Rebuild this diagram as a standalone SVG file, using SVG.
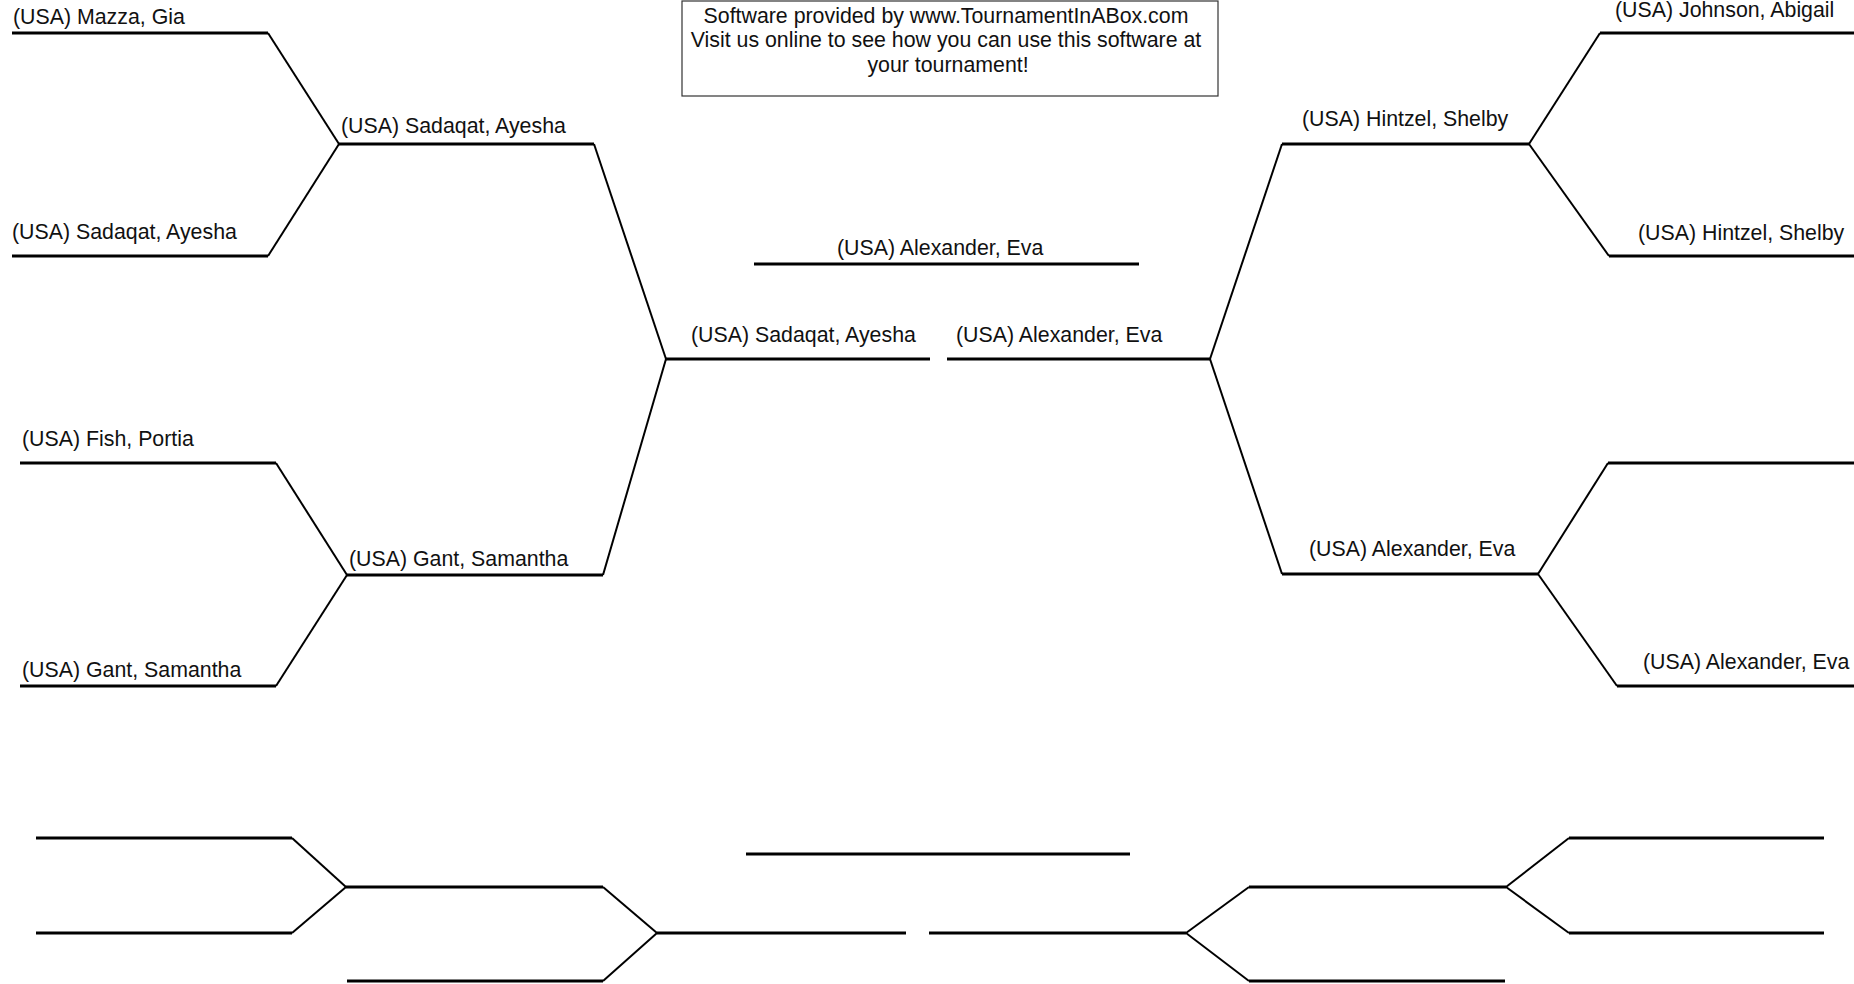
<svg xmlns="http://www.w3.org/2000/svg" width="1854" height="984" viewBox="0 0 1854 984">
<style>
.h{stroke:#000;stroke-width:3;fill:none}
.d{stroke:#000;stroke-width:2;fill:none}
.t{font-family:"Liberation Sans",Arial,sans-serif;font-size:21.33px;fill:#111}
.bx{fill:#fff;stroke:#333;stroke-width:1.2}
</style>
<rect width="1854" height="984" fill="#fff"/>
<g id="info">
<rect class="bx" x="682" y="1" width="536" height="95"/>
<text class="t" x="946" y="23" text-anchor="middle">Software provided by www.TournamentInABox.com</text>
<text class="t" x="946" y="47" text-anchor="middle">Visit us online to see how you can use this software at</text>
<text class="t" x="948" y="72" text-anchor="middle">your tournament!</text>
</g>
<g id="L1"><line class="h" x1="12" y1="33" x2="268" y2="33"/><text class="t" x="13" y="24">(USA) Mazza, Gia</text></g>
<g id="L2"><line class="h" x1="12" y1="256" x2="268" y2="256"/><text class="t" x="12" y="239">(USA) Sadaqat, Ayesha</text></g>
<g id="L3"><line class="h" x1="20" y1="463" x2="276" y2="463"/><text class="t" x="22" y="446">(USA) Fish, Portia</text></g>
<g id="L4"><line class="h" x1="20" y1="686" x2="276" y2="686"/><text class="t" x="22" y="677">(USA) Gant, Samantha</text></g>
<g id="LR2a"><line class="h" x1="339" y1="144" x2="594" y2="144"/><text class="t" x="341" y="133">(USA) Sadaqat, Ayesha</text></g>
<g id="LR2b"><line class="h" x1="347" y1="575" x2="603" y2="575"/><text class="t" x="349" y="566">(USA) Gant, Samantha</text></g>
<g id="SemiL"><line class="h" x1="666" y1="359" x2="930" y2="359"/><text class="t" x="691" y="342">(USA) Sadaqat, Ayesha</text></g>
<g id="SemiR"><line class="h" x1="947" y1="359" x2="1210" y2="359"/><text class="t" x="956" y="342">(USA) Alexander, Eva</text></g>
<g id="Final"><line class="h" x1="754" y1="264" x2="1139" y2="264"/><text class="t" x="837" y="255">(USA) Alexander, Eva</text></g>
<g id="RR2a"><line class="h" x1="1282" y1="144" x2="1529" y2="144"/><text class="t" x="1302" y="126">(USA) Hintzel, Shelby</text></g>
<g id="RR2b"><line class="h" x1="1282" y1="574" x2="1538" y2="574"/><text class="t" x="1309" y="556">(USA) Alexander, Eva</text></g>
<g id="R1"><line class="h" x1="1600" y1="33" x2="1854" y2="33"/><text class="t" x="1615" y="17">(USA) Johnson, Abigail</text></g>
<g id="R2"><line class="h" x1="1609" y1="256" x2="1854" y2="256"/><text class="t" x="1638" y="240">(USA) Hintzel, Shelby</text></g>
<g id="R3"><line class="h" x1="1608" y1="463" x2="1854" y2="463"/></g>
<g id="R4"><line class="h" x1="1617" y1="686" x2="1854" y2="686"/><text class="t" x="1643" y="669">(USA) Alexander, Eva</text></g>
<g id="C1"><line class="h" x1="36" y1="838" x2="292" y2="838"/></g>
<g id="C2"><line class="h" x1="36" y1="933" x2="292" y2="933"/></g>
<g id="C3"><line class="h" x1="346" y1="887" x2="603" y2="887"/></g>
<g id="C4"><line class="h" x1="347" y1="981" x2="603" y2="981"/></g>
<g id="C5"><line class="h" x1="657" y1="933" x2="906" y2="933"/></g>
<g id="C6"><line class="h" x1="746" y1="854" x2="1130" y2="854"/></g>
<g id="C7"><line class="h" x1="929" y1="933" x2="1186" y2="933"/></g>
<g id="C8"><line class="h" x1="1249" y1="887" x2="1506" y2="887"/></g>
<g id="C9"><line class="h" x1="1249" y1="981" x2="1505" y2="981"/></g>
<g id="C10"><line class="h" x1="1569" y1="838" x2="1824" y2="838"/></g>
<g id="C11"><line class="h" x1="1569" y1="933" x2="1824" y2="933"/></g>
<g id="connectors" class="d">
<line class="d" x1="268" y1="33" x2="339" y2="144"/>
<line class="d" x1="268" y1="256" x2="339" y2="144"/>
<line class="d" x1="276" y1="463" x2="347" y2="575"/>
<line class="d" x1="276" y1="686" x2="347" y2="575"/>
<line class="d" x1="594" y1="144" x2="666" y2="359"/>
<line class="d" x1="603" y1="575" x2="666" y2="359"/>
<line class="d" x1="1210" y1="359" x2="1282" y2="144"/>
<line class="d" x1="1210" y1="359" x2="1282" y2="574"/>
<line class="d" x1="1529" y1="144" x2="1600" y2="33"/>
<line class="d" x1="1529" y1="144" x2="1609" y2="256"/>
<line class="d" x1="1538" y1="574" x2="1608" y2="463"/>
<line class="d" x1="1538" y1="574" x2="1617" y2="686"/>
<line class="d" x1="292" y1="838" x2="346" y2="887"/>
<line class="d" x1="292" y1="933" x2="346" y2="887"/>
<line class="d" x1="603" y1="887" x2="657" y2="933"/>
<line class="d" x1="603" y1="981" x2="657" y2="933"/>
<line class="d" x1="1186" y1="933" x2="1249" y2="887"/>
<line class="d" x1="1186" y1="933" x2="1249" y2="981"/>
<line class="d" x1="1506" y1="887" x2="1569" y2="838"/>
<line class="d" x1="1506" y1="887" x2="1569" y2="933"/>
</g>
</svg>
